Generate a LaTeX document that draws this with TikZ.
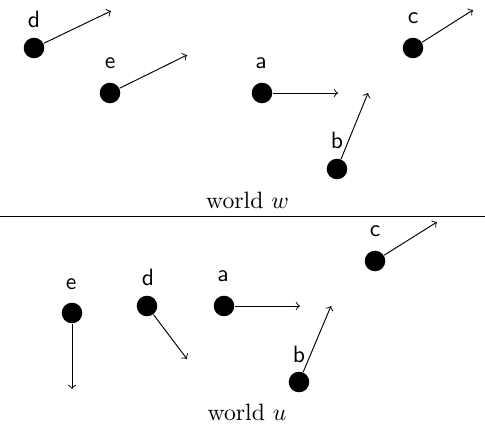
\documentclass[tikz,border=0pt]{standalone}
\begin{document}
\begin{tikzpicture}[x=0.423pt,y=-0.423pt,
  dot/.style={circle,fill=black,inner sep=0pt,minimum size=8.7pt},
  lab/.style={font=\sffamily,inner sep=0pt},
  vec/.style={->,line width=0.4pt},
  caption/.style={inner sep=0pt}]
\useasboundingbox (0,0) rectangle (485,429);
% world w
\node[dot] (wd) at (34,48) {};
\node[dot] (we) at (110,93) {};
\node[dot] (wa) at (262,93) {};
\node[dot] (wb) at (337,169) {};
\node[dot] (wc) at (413,48) {};
\node[lab] (wdl) at (34,19) {d};
\node[lab] (wel) at (110,63) {e};
\node[lab] (wal) at (261,63) {a};
\node[lab] (wbl) at (337,140) {b};
\node[lab] (wcl) at (413,18) {c};
\coordinate (wdv) at (111,11);
\coordinate (wev) at (187,55);
\coordinate (wav) at (338,93);
\coordinate (wbv) at (368,93);
\coordinate (wcv) at (473,10);
\draw[vec] (wd) -- (wdv);
\draw[vec] (we) -- (wev);
\draw[vec] (wa) -- (wav);
\draw[vec] (wb) -- (wbv);
\draw[vec] (wc) -- (wcv);
\node[caption] (tw) at (247.5,200) {world $w$};
\coordinate (l1) at (0,216);
\coordinate (l2) at (485,216);
\draw[line width=0.4pt] (l1) -- (l2);
% world u
\node[dot] (ue) at (72,313) {};
\node[dot] (ud) at (147,306) {};
\node[dot] (ua) at (224,306) {};
\node[dot] (ub) at (299,382) {};
\node[dot] (uc) at (375,261) {};
\node[lab] (uel) at (71,284) {e};
\node[lab] (udl) at (148,277) {d};
\node[lab] (ual) at (223,276) {a};
\node[lab] (ubl) at (299,354) {b};
\node[lab] (ucl) at (375,231) {c};
\coordinate (uev) at (72,389);
\coordinate (udv) at (187,359);
\coordinate (uav) at (300,306);
\coordinate (ubv) at (331,306);
\coordinate (ucv) at (437,222);
\draw[vec] (ue) -- (uev);
\draw[vec] (ud) -- (udv);
\draw[vec] (ua) -- (uav);
\draw[vec] (ub) -- (ubv);
\draw[vec] (uc) -- (ucv);
\node[caption] (tu) at (247,412) {world $u$};
\end{tikzpicture}
\end{document}
